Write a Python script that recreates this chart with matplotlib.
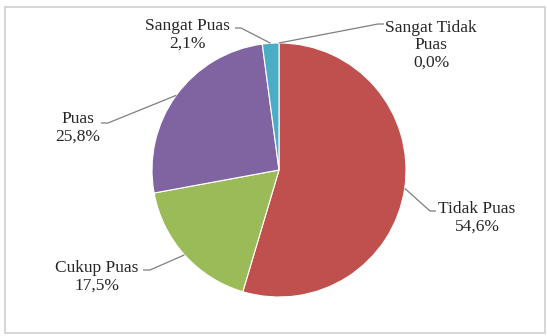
import numpy as np
import matplotlib
matplotlib.use('Agg')
import matplotlib.pyplot as plt
from matplotlib.patches import Rectangle

# Survey result: satisfaction levels
categories = ['Sangat Tidak\nPuas', 'Tidak Puas', 'Cukup Puas', 'Puas', 'Sangat Puas']
percent = [0.0, 54.6, 17.5, 25.8, 2.1]
colors = ['#4F81BD', '#C0504D', '#9BBB59', '#8064A2', '#4BACC6']

W, H = 547, 336

fig = plt.figure(figsize=(W / 100, H / 100), dpi=100)
ax = fig.add_axes([0, 0, 1, 1])

cx, cy, r = 279, 166, 127
wedges, _ = ax.pie(percent, colors=colors, startangle=90, counterclock=False,
                   center=(cx, cy), radius=r, frame=True,
                   wedgeprops=dict(edgecolor='white', linewidth=0.8))
ax.set_xlim(0, W)
ax.set_ylim(0, H)
ax.set_aspect('equal')
ax.axis('off')

# outer chart frame
ax.add_patch(Rectangle((5, 3), 540, 326, fill=False, edgecolor='#d0d0d0', lw=1.2))

# label centre (px from top-left), leader elbow, leader end
label_pos = [(431, 45), (477, 218), (97, 277), (78, 128), (187, 35)]
leader = [[(378, 24), (384, 24)],
          [(430, 211), (436, 211)],
          [(150, 270), (143, 270)],
          [(108, 123), (101, 123)],
          [(241, 28), (235, 28)]]

for w, name, p, (lx, ly), pts in zip(wedges, categories, percent, label_pos, leader):
    ang = np.deg2rad((w.theta1 + w.theta2) / 2)
    x0 = cx + r * np.cos(ang)
    y0 = cy + r * np.sin(ang)
    xs = [x0] + [q[0] for q in pts]
    ys = [y0] + [H - q[1] for q in pts]
    ax.plot(xs, ys, color='#7f7f7f', lw=0.9, solid_capstyle='butt')
    txt = f"{name}\n{p:.1f}%".replace('.', ',')
    ax.text(lx, H - ly, txt, ha='center', va='center', fontsize=12.5,
            family='Liberation Serif', color='#262626', linespacing=1.12)

fig.savefig('out.png', dpi=100, facecolor='white')
